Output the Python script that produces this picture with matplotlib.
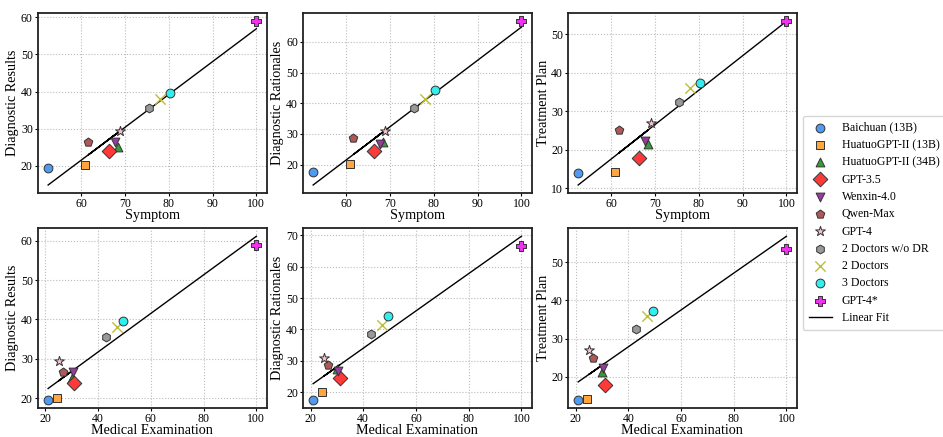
import numpy as np
import matplotlib
matplotlib.use('Agg')
import matplotlib.pyplot as plt

plt.rcParams['font.family'] = ['Liberation Serif', 'DejaVu Serif']

models = ['Baichuan (13B)', 'HuatuoGPT-II (13B)', 'HuatuoGPT-II (34B)', 'GPT-3.5',
          'Wenxin-4.0', 'Qwen-Max', 'GPT-4', '2 Doctors w/o DR', '2 Doctors',
          '3 Doctors', 'GPT-4*']

symptom = [52.5, 61.0, 68.5, 66.4, 67.8, 61.7, 69.0, 75.5, 78.0, 80.3, 100.0]
medical_exam = [21.0, 24.5, 30.0, 31.0, 30.5, 26.5, 25.0, 43.0, 47.0, 49.5, 100.0]

diag_results = [19.5, 20.1, 25.2, 23.9, 26.5, 26.5, 29.4, 35.6, 38.0, 39.6, 58.9]
diag_rationales = [17.5, 20.2, 27.3, 24.5, 26.8, 28.8, 30.8, 38.5, 41.5, 44.3, 66.7]
treatment_plan = [14.0, 14.3, 21.4, 17.8, 22.3, 25.0, 27.0, 32.4, 35.9, 37.3, 53.3]

markers = ['o', 's', '^', 'D', 'v', 'p', '*', 'h', 'x', 'o', 'P']
colors = ['#4f9bf0', '#ffa640', '#3a9a3a', '#ff3838', '#983aa0', '#b05858',
          '#f6c4cc', '#999999', '#bcbd3a', '#33eeee', '#ee33ee']

x_sets = [('Symptom', symptom), ('Medical Examination', medical_exam)]
y_sets = [('Diagnostic Results', diag_results),
          ('Diagnostic Rationales', diag_rationales),
          ('Treatment Plan', treatment_plan)]

fig, axes = plt.subplots(2, 3, figsize=(9.43, 4.37), dpi=100)
fig.subplots_adjust(left=0.04, right=0.845, top=0.97, bottom=0.066,
                    wspace=0.157, hspace=0.194)

for r, (xlabel, xs) in enumerate(x_sets):
    for c, (ylabel, ys) in enumerate(y_sets):
        ax = axes[r, c]
        for i, name in enumerate(models):
            if markers[i] == 'x':
                ax.scatter(xs[i], ys[i], marker='x', s=55, color=colors[i],
                           linewidths=1.0, label=name, zorder=3)
            else:
                size = {'D': 55, '*': 55, 'P': 50, 'p': 42}.get(markers[i], 40)
                ax.scatter(xs[i], ys[i], marker=markers[i], s=size, color=colors[i],
                           edgecolors='#333333', linewidths=0.7, label=name, zorder=3)
        coef = np.polyfit(xs, ys, 1)
        fit = np.poly1d(coef)
        ax.plot(xs, fit(np.array(xs)), color='black', linewidth=1.0,
                label='Linear Fit', zorder=2)
        ax.set_xlabel(xlabel, fontsize=10.2, labelpad=-1)
        ax.set_ylabel(ylabel, fontsize=10.2, labelpad=1)
        ax.tick_params(labelsize=8.5, length=2, pad=1.5)
        ax.grid(True, linestyle=':', color='#bbbbbb', linewidth=0.8)
        for sp in ax.spines.values():
            sp.set_linewidth(1.3)
            sp.set_color('#222222')

handles, labels = axes[0, 0].get_legend_handles_labels()
fig.legend(handles, labels, loc='center left', bbox_to_anchor=(0.845, 0.49),
           fontsize=8.5, frameon=True, labelspacing=0.45,
           borderpad=0.5, fancybox=True)

fig.savefig('out.png', dpi=100)
